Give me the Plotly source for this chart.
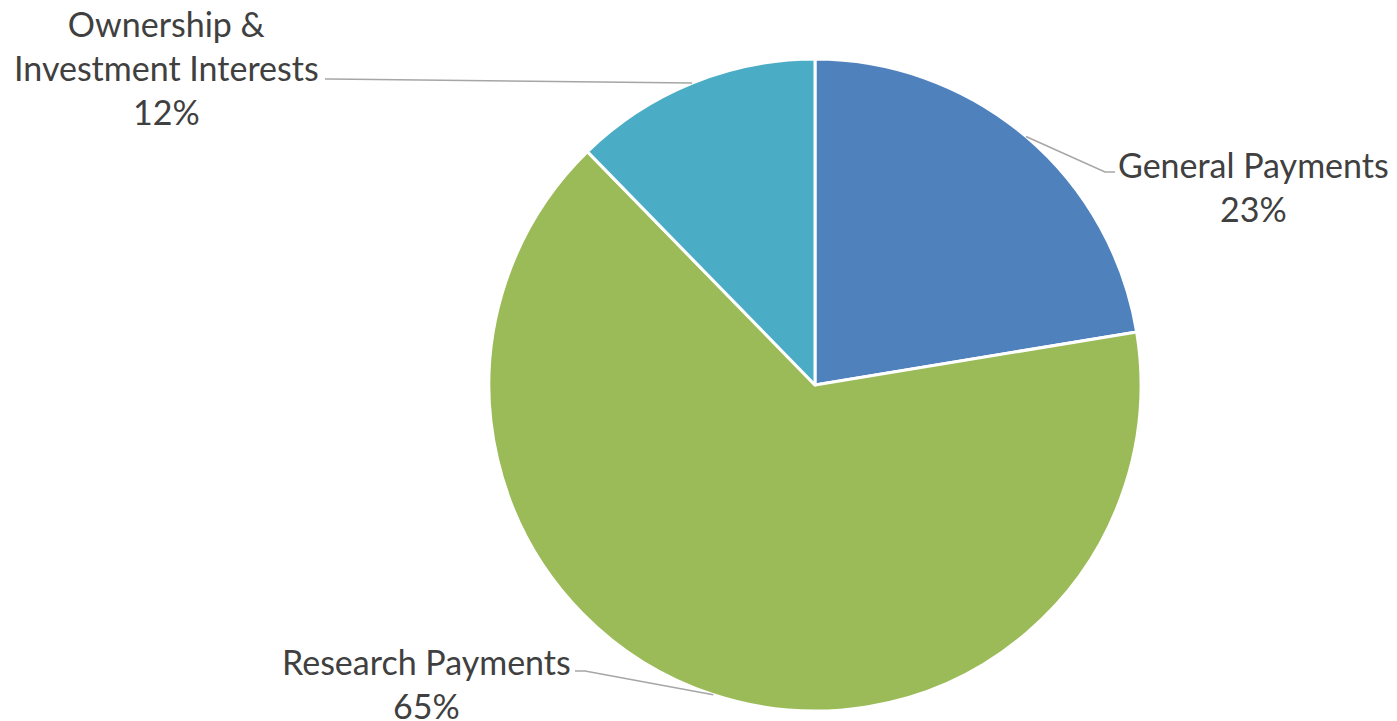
import math
import plotly.graph_objects as go

categories = ["General Payments", "Research Payments", "Ownership & Investment Interests"]
values = [22.4, 65.3, 12.3]
label_texts = ["General Payments<br>23%", "Research Payments<br>65%", "Ownership &<br>Investment Interests<br>12%"]
colors = ["#4F81BD", "#9BBB59", "#4BACC6"]

W, H = 1397, 721
OFF = 8  # page body margin
CX, CY, R = 815, 385, 326  # pie centre / radius in screen pixels

def px(x, y):
    return (x - OFF) / W, 1 - (y - OFF) / H

# label block centres and leader elbow/end points (layout, in screen pixels)
label_pos = [(1253, 186), (426, 683), (166, 68)]
elbows = [((1105, 172), (1115, 172)), ((585, 671), (575, 671)), ((330, 79), (325, 79))]

d0 = px(CX - R, CY + R)
d1 = px(CX + R, CY - R)
fig = go.Figure(go.Pie(
    labels=categories, values=values, sort=False, direction="clockwise", rotation=0,
    marker=dict(colors=colors, line=dict(color="white", width=3)),
    textinfo="none", hoverinfo="label+percent", showlegend=False,
    domain=dict(x=[d0[0], d1[0]], y=[d0[1], d1[1]]),
))

total = sum(values)
cum = 0
shapes = []
annotations = []
for i, v in enumerate(values):
    mid = (cum + v / 2) / total * 2 * math.pi
    cum += v
    ex = CX + R * math.sin(mid)
    ey = CY - R * math.cos(mid)
    (bx, by), (tx, ty) = elbows[i]
    pts = [(ex, ey), (bx, by), (tx, ty)]
    path = "M " + " L ".join(f"{px(a, b)[0]},{px(a, b)[1]}" for a, b in pts)
    shapes.append(dict(type="path", path=path, xref="paper", yref="paper",
                       line=dict(color="#A6A6A6", width=1.5)))
    lx, ly = px(*label_pos[i])
    annotations.append(dict(text=label_texts[i], x=lx, y=ly, xref="paper", yref="paper",
                            xanchor="center", yanchor="middle", showarrow=False,
                            align="center", font=dict(family="Lato", size=34, color="#404040")))

fig.update_layout(width=W, height=H, margin=dict(l=0, r=0, t=0, b=0),
                  paper_bgcolor="white", plot_bgcolor="white",
                  shapes=shapes, annotations=annotations)

fig.write_html("out.html")
